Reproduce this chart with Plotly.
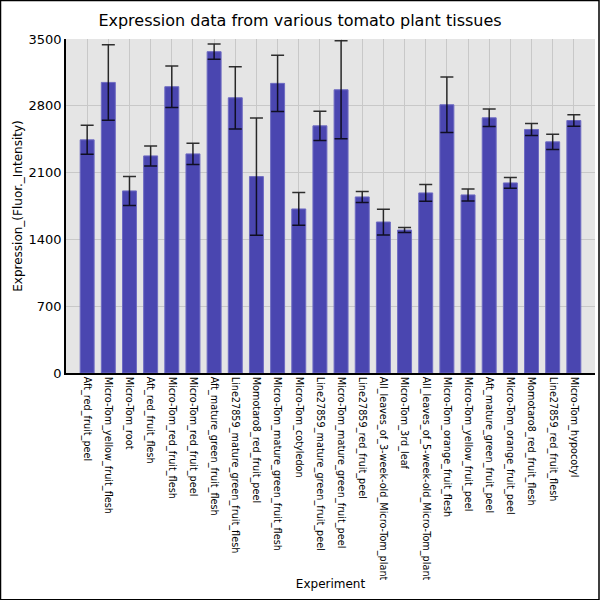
import plotly.graph_objects as go

categories = [
    "Aft_red_fruit_peel", "Micro-Tom_yellow_fruit_flesh", "Micro-Tom_root",
    "Aft_red_fruit_flesh", "Micro-Tom_red_fruit_flesh", "Micro-Tom_red_fruit_peel",
    "Aft_mature_green_fruit_flesh", "Line27859_mature_green_fruit_flesh",
    "Momotaro8_red_fruit_peel", "Micro-Tom_mature_green_fruit_flesh",
    "Micro-Tom_cotyledon", "Line27859_mature_green_fruit_peel",
    "Micro-Tom_mature_green_fruit_peel", "Line27859_red_fruit_peel",
    "All_leaves_of_3-week-old_Micro-Tom_plant", "Micro-Tom_3rd_leaf",
    "All_leaves_of_5-week-old_Micro-Tom_plant", "Micro-Tom_orange_fruit_flesh",
    "Micro-Tom_yellow_fruit_peel", "Aft_mature_green_fruit_peel",
    "Micro-Tom_orange_fruit_peel", "Momotaro8_red_fruit_flesh",
    "Line27859_red_fruit_flesh", "Micro-Tom_hypocotyl",
]
values = [2443, 3045, 1908, 2275, 3000, 2296, 3367, 2884, 2058, 3035, 1719, 2590,
          2968, 1845, 1582, 1498, 1887, 2811, 1866, 2674, 1992, 2552, 2422, 2646]
errors = [152, 396, 152, 105, 217, 112, 80, 326, 615, 294, 172, 154,
          514, 58, 135, 27, 88, 290, 63, 92, 56, 63, 81, 60]
y_ticks = [0, 700, 1400, 2100, 2800, 3500]

fig = go.Figure()
fig.add_trace(go.Bar(
    x=categories, y=values,
    width=0.66,
    marker=dict(color="#4a46b0", line=dict(color="#6e6bc2", width=1)),
    error_y=dict(type="data", array=errors, visible=True,
                 color="rgba(0,0,0,0.8)", thickness=1.5, width=6.5),
))

fig.update_layout(
    width=600, height=600,
    paper_bgcolor="white", plot_bgcolor="#e5e5e5",
    font=dict(family="DejaVu Sans", color="black"),
    margin=dict(l=66, r=5, t=39, b=227),
    title=dict(text="Expression data from various tomato plant tissues",
               x=0.5, xanchor="center", y=0.966, yanchor="middle",
               font=dict(size=16)),
    showlegend=False,
    bargap=0.34,
    shapes=[dict(type="rect", xref="paper", yref="paper",
                 x0=-65.5/529, x1=1 + 4/529, y0=-226.5/333.7, y1=1 + 38.5/333.7,
                 line=dict(color="black", width=1.5), fillcolor="rgba(0,0,0,0)",
                 layer="above")],
)
fig.update_xaxes(
    range=[-1, len(categories)], automargin=False,
    tickangle=90, tickfont=dict(size=9.7),
    showgrid=True, gridcolor="#c8c8c8", gridwidth=1,
    showline=True, linecolor="black", linewidth=1.5,
    ticks="", title=dict(text="Experiment", font=dict(size=12), standoff=0),
)
fig.update_yaxes(
    range=[0, 3500], tickvals=y_ticks, automargin=False,
    tickfont=dict(size=13),
    showgrid=True, gridcolor="#c8c8c8", gridwidth=1,
    showline=True, linecolor="black", linewidth=1.5, zeroline=False,
    ticks="", title=dict(text="Expression_(Fluor._Intensity)", font=dict(size=12), standoff=3),
)

fig.write_html("out.html", config={"displayModeBar": False},
               post_script="document.body.style.margin='0';document.body.style.overflow='hidden';")
